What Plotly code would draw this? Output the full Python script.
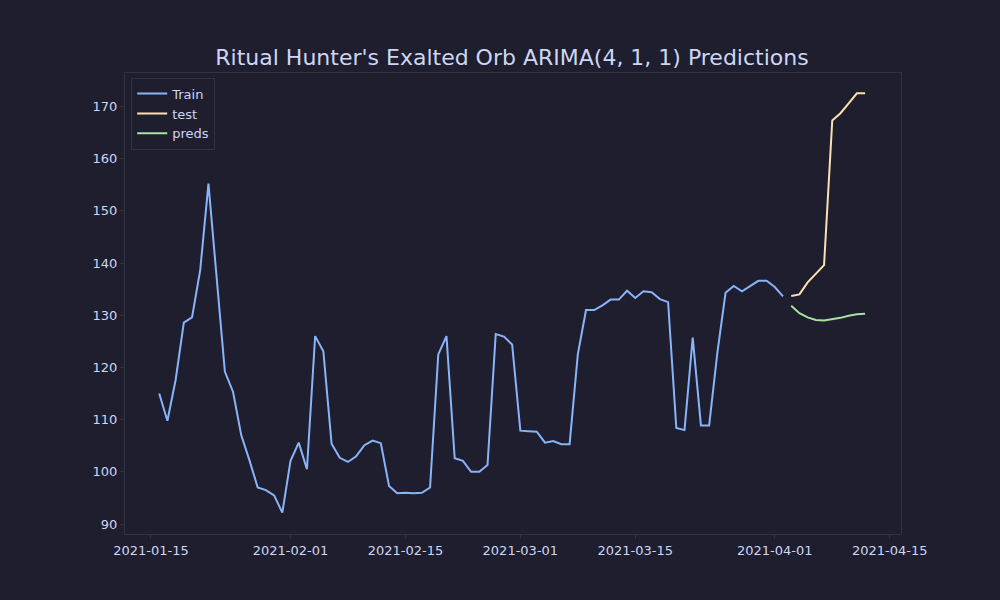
import pandas as pd
import plotly.graph_objects as go

# === datos ===
train_start = "2021-01-16"
train_values = [
    115.0, 109.8, 117.6, 128.6, 129.6, 138.7, 155.2, 137.3, 119.2, 115.3,
    107.0, 102.2, 97.0, 96.5, 95.5, 92.2, 102.1, 105.6, 100.5, 126.0,
    123.1, 105.4, 102.7, 101.9, 103.0, 105.1, 106.0, 105.5, 97.3, 95.9,
    96.0, 95.9, 96.0, 97.0, 122.5, 126.0, 102.6, 102.1, 100.0, 100.0,
    101.3, 126.4, 125.9, 124.4, 107.9, 107.8, 107.7, 105.6, 105.9, 105.3,
    105.3, 122.5, 131.0, 131.0, 131.9, 133.0, 133.0, 134.7, 133.3, 134.6,
    134.4, 133.1, 132.5, 108.4, 108.0, 125.7, 108.9, 108.9, 122.8, 134.3,
    135.6, 134.6, 135.6, 136.6, 136.6, 135.4, 133.6,
]

test_start = "2021-04-03"
test_values = [133.7, 134.0, 136.3, 137.9, 139.6, 167.3, 168.7, 170.6, 172.5, 172.5]
pred_values = [131.8, 130.4, 129.6, 129.1, 129.0, 129.2, 129.5, 129.9, 130.2, 130.3]

x_ticks = ["2021-01-15", "2021-02-01", "2021-02-15", "2021-03-01",
           "2021-03-15", "2021-04-01", "2021-04-15"]
y_ticks = [90, 100, 110, 120, 130, 140, 150, 160, 170]

# === colores ===
bg = "#1e1e2e"
fg = "#cdd6f4"
frame = "#313244"
color = {"Train": "#89b4fa", "test": "#f9e2af", "preds": "#a6e3a1"}

train_dates = pd.date_range(train_start, periods=len(train_values), freq="D")
test_dates = pd.date_range(test_start, periods=len(test_values), freq="D")

fig = go.Figure()
fig.add_trace(go.Scatter(x=train_dates, y=train_values, mode="lines", name="Train",
                         line=dict(color=color["Train"], width=2)))
fig.add_trace(go.Scatter(x=test_dates, y=test_values, mode="lines", name="test",
                         line=dict(color=color["test"], width=2)))
fig.add_trace(go.Scatter(x=test_dates, y=pred_values, mode="lines", name="preds",
                         line=dict(color=color["preds"], width=2)))

axis_style = dict(
    showgrid=False, zeroline=False,
    showline=True, linecolor=frame, linewidth=1, mirror=True,
    ticks="outside", ticklen=4, tickcolor=frame, tickwidth=1,
    tickfont=dict(family="DejaVu Sans", size=13, color=fg),
)

fig.update_layout(
    width=1000, height=600,
    paper_bgcolor=bg, plot_bgcolor=bg,
    margin=dict(l=125, r=99, t=73, b=66),
    title=dict(text="Ritual Hunter's Exalted Orb ARIMA(4, 1, 1) Predictions",
               x=0.512, xanchor="center", y=0.905, yanchor="middle",
               font=dict(family="DejaVu Sans", size=22, color=fg)),
    xaxis=dict(axis_style, type="date",
               range=["2021-01-11 20:00", "2021-04-16 09:00"],
               tickvals=x_ticks, ticktext=x_ticks),
    yaxis=dict(axis_style, range=[88.1, 176.4], tickvals=y_ticks),
    legend=dict(x=0.008, y=0.99, xanchor="left", yanchor="top",
                bgcolor=bg, bordercolor=frame, borderwidth=1,
                font=dict(family="DejaVu Sans", size=13, color=fg),
                itemwidth=30, tracegroupgap=2),
    showlegend=True,
)

# quitar el margen del body para que la figura quede en (0, 0)
fig.write_html("out.html",
               config={"displayModeBar": False},
               post_script="document.body.style.margin='0';"
                           "document.body.style.background='#1e1e2e';")
